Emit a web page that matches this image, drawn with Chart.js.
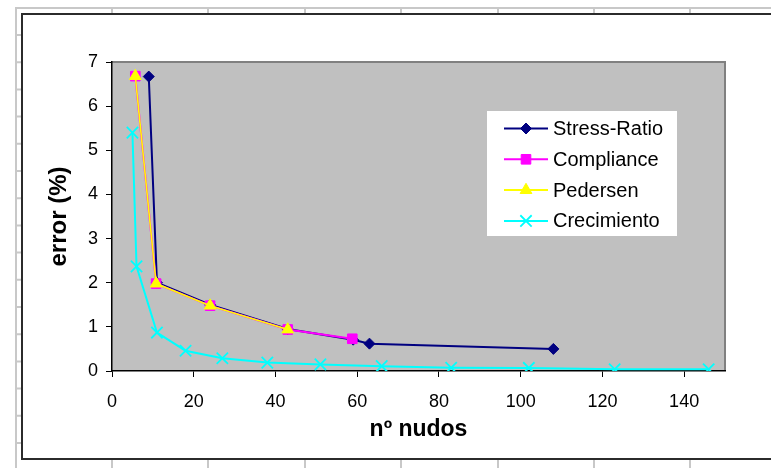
<!DOCTYPE html>
<html>
<head>
<meta charset="utf-8">
<script src="https://cdn.jsdelivr.net/npm/chart.js@4/dist/chart.umd.min.js"></script>
<style>
  html, body { margin: 0; padding: 0; background: #fff; }
  #wrap { width: 771px; height: 468px; position: relative; }
</style>
</head>
<body>
<div id="wrap"><canvas id="graph" width="771" height="468"></canvas></div>
<script>
// nodes (x) and error % (y) for each method
const stressX = [9, 11, 24, 43, 59, 63, 108];
const stressY = [6.67, 2.0, 1.5, 0.95, 0.71, 0.62, 0.5];

const complianceX = [5.7, 10.8, 24, 43, 58.8];
const complianceY = [6.68, 1.98, 1.48, 0.94, 0.73];

const pedersenX = [5.7, 10.8, 24, 43];
const pedersenY = [6.68, 1.98, 1.48, 0.94];

const crecimientoX = [5, 6, 11, 18, 27, 38, 51, 66, 83, 102, 123, 146];
const crecimientoY = [5.4, 2.37, 0.87, 0.46, 0.29, 0.19, 0.15, 0.11, 0.075, 0.07, 0.04, 0.04];

const seriesNames = ["Stress-Ratio", "Compliance", "Pedersen", "Crecimiento"];

const FONT = "'Liberation Sans', Arial, sans-serif";

function pts(xs, ys) {
  return xs.map((x, i) => ({ x: x, y: ys[i] }));
}

// spreadsheet backdrop + white chart box
const sheetBackground = {
  id: "sheetBackground",
  beforeDraw(chart) {
    const ctx = chart.ctx;
    const W = chart.width, H = chart.height;
    ctx.save();
    ctx.fillStyle = "#fff";
    ctx.fillRect(0, 0, W, H);

    ctx.strokeStyle = "#c8c8c8";
    ctx.lineWidth = 2;
    ctx.beginPath();
    ctx.moveTo(15, 8); ctx.lineTo(W, 8);
    ctx.moveTo(16, 7); ctx.lineTo(16, H);
    for (let y = 35; y < H; y += 27.2) {
      ctx.moveTo(16, y); ctx.lineTo(22, y);
    }
    [112, 208, 305, 401, 498, 594, 690].forEach((x) => {
      ctx.moveTo(x, 8); ctx.lineTo(x, 14);
      ctx.moveTo(x, 459); ctx.lineTo(x, H);
    });
    ctx.stroke();

    ctx.fillStyle = "#fff";
    ctx.fillRect(22, 14, W - 22, 445);
    ctx.strokeStyle = "#2b2b2b";
    ctx.lineWidth = 2;
    ctx.beginPath();
    ctx.moveTo(W + 2, 14); ctx.lineTo(22, 14); ctx.lineTo(22, 459); ctx.lineTo(W + 2, 459);
    ctx.stroke();

    // plot area
    const a = chart.chartArea;
    ctx.fillStyle = "#c0c0c0";
    ctx.fillRect(a.left, a.top, a.right - a.left, a.bottom - a.top);
    ctx.strokeStyle = "#808080";
    ctx.lineWidth = 2;
    ctx.beginPath();
    ctx.moveTo(a.left, a.top); ctx.lineTo(a.right, a.top); ctx.lineTo(a.right, a.bottom);
    ctx.stroke();
    ctx.restore();
  }
};

// boxed legend sitting inside the plot area
const boxLegend = {
  id: "boxLegend",
  afterDatasetsDraw(chart) {
    const ctx = chart.ctx;
    const left = 487, top = 111, w = 190, h = 125;
    ctx.save();
    ctx.fillStyle = "#fff";
    ctx.fillRect(left, top, w, h);
    chart.data.datasets.forEach((ds, i) => {
      const y = 128.5 + i * 30.8;
      ctx.strokeStyle = ds.borderColor;
      ctx.lineWidth = 2;
      ctx.beginPath();
      ctx.moveTo(504, y); ctx.lineTo(548, y);
      ctx.stroke();
      ctx.fillStyle = ds.pointBackgroundColor;
      ctx.strokeStyle = ds.pointBorderColor;
      ctx.lineWidth = ds.pointBorderWidth;
      Chart.helpers.drawPoint(ctx, {
        pointStyle: ds.pointStyle,
        radius: ds.pointRadius,
        rotation: 0,
        borderWidth: ds.pointBorderWidth
      }, 526, y);
      ctx.fillStyle = "#000";
      ctx.font = "20px " + FONT;
      ctx.textBaseline = "middle";
      ctx.textAlign = "left";
      ctx.fillText(ds.label, 553, y + 1);
    });
    ctx.restore();
  }
};

function series(label, xs, ys, color, style, radius, order, width) {
  return {
    label: label,
    data: pts(xs, ys),
    borderColor: color,
    backgroundColor: color,
    borderWidth: width,
    pointStyle: style,
    pointRadius: radius,
    pointHoverRadius: radius,
    pointBackgroundColor: color,
    pointBorderColor: color,
    pointBorderWidth: style === "crossRot" ? 1.8 : 1,
    showLine: true,
    tension: 0,
    order: order
  };
}

const ctx = document.getElementById("graph");

new Chart(ctx, {
  type: "scatter",
  data: {
    datasets: [
      series(seriesNames[0], stressX, stressY, "#000080", "rectRot", 5.5, 3, 2),
      series(seriesNames[1], complianceX, complianceY, "#ff00ff", "rect", 6.8, 2, 2),
      series(seriesNames[2], pedersenX, pedersenY, "#ffff00", "triangle", 6.8, 1, 1.6),
      series(seriesNames[3], crecimientoX, crecimientoY, "#00ffff", "crossRot", 8, 0, 2)
    ]
  },
  options: {
    responsive: false,
    animation: false,
    layout: { padding: { left: 22, top: 62, right: 46, bottom: 9 } },
    plugins: {
      legend: { display: false },
      tooltip: { enabled: false }
    },
    scales: {
      x: {
        type: "linear",
        min: 0,
        max: 150,
        afterFit(scale) { scale.height = 88; },
        ticks: {
          stepSize: 20,
          includeBounds: false,
          padding: 14,
          color: "#000",
          font: { family: FONT, size: 18 }
        },
        grid: { drawOnChartArea: false, drawTicks: true, tickLength: 6, color: "#000", lineWidth: 1 },
        border: { display: true, color: "#000", width: 1.5 },
        title: {
          display: true,
          text: "nº nudos",
          color: "#000",
          font: { family: FONT, size: 23, weight: "bold" },
          padding: { top: 0, bottom: 16 }
        }
      },
      y: {
        type: "linear",
        min: 0,
        max: 7,
        afterFit(scale) { scale.width = 90; },
        ticks: {
          stepSize: 1,
          padding: 8,
          color: "#000",
          font: { family: FONT, size: 18 }
        },
        grid: { drawOnChartArea: false, drawTicks: true, tickLength: 6, color: "#000", lineWidth: 1 },
        border: { display: true, color: "#000", width: 1.5 },
        title: {
          display: true,
          text: "error (%)",
          color: "#000",
          font: { family: FONT, size: 24, weight: "bold" },
          padding: { top: 22.5, bottom: 0 }
        }
      }
    }
  },
  plugins: [sheetBackground, boxLegend]
});
</script>
</body>
</html>
